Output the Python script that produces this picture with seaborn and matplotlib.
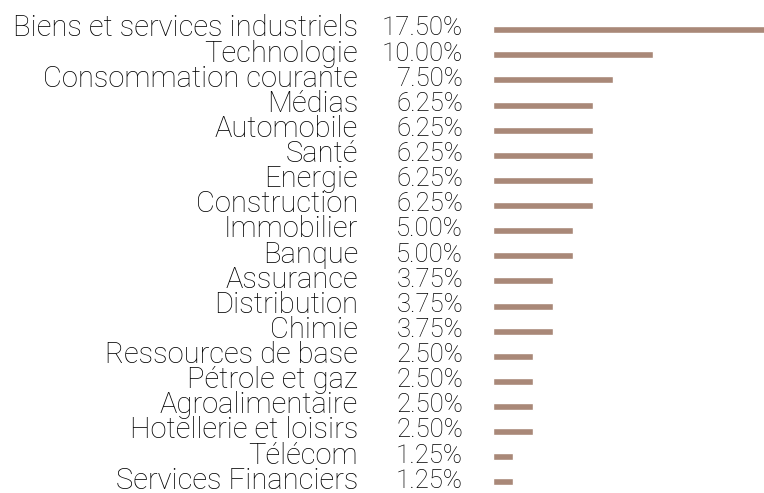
import pandas as pd
import seaborn as sns
import matplotlib.pyplot as plt
import matplotlib.transforms as mtransforms

sectors = ["Biens et services industriels", "Technologie", "Consommation courante",
           "Médias", "Automobile", "Santé", "Energie", "Construction", "Immobilier",
           "Banque", "Assurance", "Distribution", "Chimie", "Ressources de base",
           "Pétrole et gaz", "Agroalimentaire", "Hotellerie et loisirs", "Télécom",
           "Services Financiers"]
weights = [17.50, 10.00, 7.50, 6.25, 6.25, 6.25, 6.25, 6.25, 5.00, 5.00,
           3.75, 3.75, 3.75, 2.50, 2.50, 2.50, 2.50, 1.25, 1.25]
pct_labels = [f"{w:.2f}%" for w in weights]

df = pd.DataFrame({"sector": sectors, "weight": weights})

sns.set_style("white")
plt.rcParams['font.family'] = ['Roboto', 'DejaVu Sans']

W, H = 764, 493
fig = plt.figure(figsize=(W / 100, H / 100), dpi=100)
ax = fig.add_axes([493 / W, 0, 271 / W, 1])

sns.barplot(data=df, x="weight", y="sector", orient="h", color="#a98878",
            saturation=1, width=0.28, ax=ax)

# longest bar runs past the right edge, as in the original
ax.set_xlim(0, 271 / 16)
ax.set_ylim(18.44, -1.18)
ax.set_axis_off()

trans = mtransforms.blended_transform_factory(fig.transFigure, ax.transData)
for i, (name, pct) in enumerate(zip(sectors, pct_labels)):
    ax.text(358 / W, i - 0.05, name, transform=trans, ha="right", va="center",
            fontsize=21, fontweight="light", color="black")
    ax.text(463 / W, i - 0.05, pct, transform=trans, ha="right", va="center",
            fontsize=18.5, fontweight="light", color="black")

fig.savefig("out.png", dpi=100, facecolor="white")
